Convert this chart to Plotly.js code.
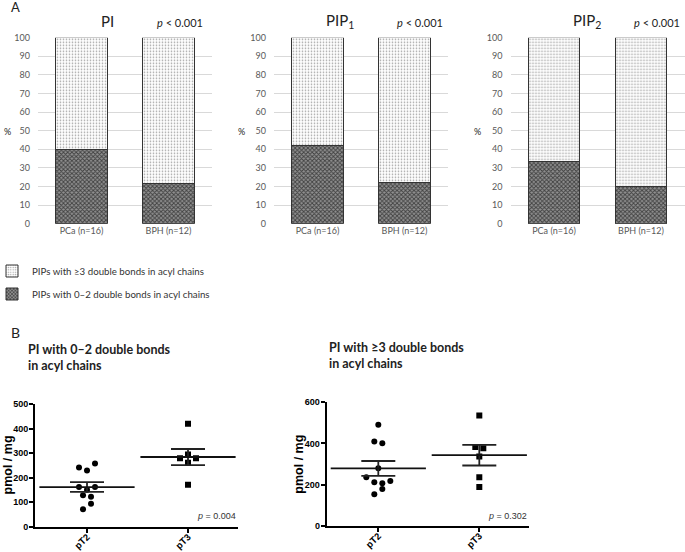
<!DOCTYPE html>
<html>
<head>
<meta charset="utf-8">
<script src="https://cdn.plot.ly/plotly-3.0.1.min.js"></script>
<style>html,body{margin:0;padding:0;background:#fff;}#chart{width:685px;height:552px;}</style>
</head>
<body>
<div id="chart"></div>
<script>
// ---------- DATA ----------
const groupsA = ['PCa (n=16)', 'BPH (n=12)'];
const classTitles = ['PI', 'PIP<sub>1</sub>', 'PIP<sub>2</sub>'];
const classP = ['<i>p</i> &lt; 0.001', '<i>p</i> &lt; 0.001', '<i>p</i> &lt; 0.001'];
// % of PIPs with 0–2 double bonds (dark part); rest is ≥3 double bonds
const lowPI   = [40.0, 21.7];
const lowPIP1 = [41.8, 22.0];
const lowPIP2 = [33.5, 20.2];
const seriesNames = ['PIPs with ≥3 double bonds in acyl chains', 'PIPs with 0–2 double bonds in acyl chains'];

const stages = ['pT2', 'pT3'];
// PI with 0–2 double bonds (pmol/mg)
const low_pT2 = [71, 94, 128, 122, 162, 151, 162, 242, 230, 258];
const low_pT3 = [171, 280, 261, 280, 295, 421];
// PI with ≥3 double bonds (pmol/mg)
const high_pT2 = [153, 179, 235, 211, 207, 217, 279, 410, 401, 491];
const high_pT3 = [188, 236, 337, 383, 377, 536];
const pB = ['<i>p</i> = 0.004', '<i>p</i> = 0.302'];
const titlesB = ['PI with 0–2 double bonds<br>in acyl chains', 'PI with ≥3 double bonds<br>in acyl chains'];

// ---------- LAYOUT HELPERS ----------
const W = 685, H = 552;
const fx = p => p / W;
const fy = p => 1 - p / H;
const FA = 'Lato, "Open Sans", sans-serif';
const FB = '"Liberation Sans", Arial, sans-serif';

const lows = [lowPI, lowPIP1, lowPIP2];
const aDomX = [[38, 212], [274, 448], [510.5, 684.5]];
const aDomY = [fy(223.7), fy(37.7)];
const aTitleX = [107, 340, 587];
const aPX = [180, 420, 657];
const aPctX = [7, 241, 477];

const traces = [];
const layout = {
  width: W, height: H,
  margin: {l: 0, r: 0, t: 0, b: 0, autoexpand: false},
  paper_bgcolor: '#fff', plot_bgcolor: 'rgba(0,0,0,0)',
  barmode: 'stack', bargap: 0.41,
  showlegend: true,
  annotations: [],
  font: {family: FA, color: '#222'}
};

const patHigh = {shape: '.', fgcolor: '#a0a0a0', bgcolor: '#ffffff', size: 3, solidity: 0.25};
const patLow = {shape: 'x', fgcolor: '#404040', bgcolor: '#909090', size: 3, solidity: 0.5};

lows.forEach((low, k) => {
  const xa = k === 0 ? 'x' : 'x' + (k + 1);
  const ya = k === 0 ? 'y' : 'y' + (k + 1);
  traces.push({
    type: 'bar', x: groupsA, y: low, xaxis: xa, yaxis: ya,
    name: seriesNames[1], legend: 'legend2', showlegend: k === 0,
    marker: {color: '#909090', pattern: patLow, line: {color: '#333', width: 1}},
    hoverinfo: 'skip'
  });
  traces.push({
    type: 'bar', x: groupsA, y: low.map(v => 100 - v), xaxis: xa, yaxis: ya,
    name: seriesNames[0], legend: 'legend', showlegend: k === 0,
    marker: {color: '#ffffff', pattern: patHigh, line: {color: '#333', width: 1}},
    hoverinfo: 'skip'
  });
  const sfx = k === 0 ? '' : String(k + 1);
  layout['xaxis' + sfx] = {
    domain: [fx(aDomX[k][0]), fx(aDomX[k][1])], anchor: ya, type: 'category',
    range: [-0.5, 1.5], showgrid: false, showline: false, zeroline: false, ticks: '',
    tickfont: {family: FA, size: 9, color: '#595959'}, fixedrange: true
  };
  layout['yaxis' + sfx] = {
    domain: aDomY, anchor: xa, range: [0, 100],
    tickvals: [0, 10, 20, 30, 40, 50, 60, 70, 80, 90, 100],
    showgrid: true, gridcolor: '#d9d9d9', gridwidth: 1, zeroline: false, showline: false,
    ticks: '', ticklabelstandoff: 7,
    tickfont: {family: FA, size: 9, color: '#595959'}, fixedrange: true
  };
  layout.annotations.push({
    xref: 'paper', yref: 'paper', x: fx(aTitleX[k]), y: fy(21), text: classTitles[k],
    showarrow: false, xanchor: 'center', yanchor: 'middle', font: {family: FA, size: 15, color: '#222'}
  });
  layout.annotations.push({
    xref: 'paper', yref: 'paper', x: fx(aPX[k]), y: fy(23), text: classP[k],
    showarrow: false, xanchor: 'center', yanchor: 'middle', font: {family: FA, size: 11, color: '#222'}
  });
  layout.annotations.push({
    xref: 'paper', yref: 'paper', x: fx(aPctX[k]), y: fy(131), text: '%',
    showarrow: false, xanchor: 'center', yanchor: 'middle', font: {family: FA, size: 9, color: '#222'}
  });
});

layout.legend = {x: fx(-8), y: fy(271), xanchor: 'left', yanchor: 'middle',
  bgcolor: 'rgba(0,0,0,0)', font: {family: FA, size: 9.7, color: '#333'}, itemwidth: 30};
layout.legend2 = {x: fx(-8), y: fy(294), xanchor: 'left', yanchor: 'middle',
  bgcolor: 'rgba(0,0,0,0)', font: {family: FA, size: 9.7, color: '#333'}, itemwidth: 30};

// Panel letters
layout.annotations.push({xref: 'paper', yref: 'paper', x: fx(15), y: fy(7), text: 'A', showarrow: false,
  xanchor: 'center', yanchor: 'middle', font: {family: FA, size: 13, color: '#222'}});
layout.annotations.push({xref: 'paper', yref: 'paper', x: fx(15), y: fy(332), text: 'B', showarrow: false,
  xanchor: 'center', yanchor: 'middle', font: {family: FA, size: 14, color: '#222'}});

// ---------- PANEL B ----------
const bDomX = [[35, 238], [326.7, 529.3]];
const bDomY = [[526.7, 404.3], [525.7, 402.3]];
const bRangeX = [[-0.515, 1.495], [-0.511, 1.495]];
const bRangeY = [[0, 500], [0, 600]];
const bTicks = [[0, 100, 200, 300, 400, 500], [0, 200, 400, 600]];
const bData = [[low_pT2, low_pT3], [high_pT2, high_pT3]];
const symbols = ['circle', 'square'];
const ROW_PX = 7, SLOT_PX = 8;

function mean(a) { return a.reduce((s, v) => s + v, 0) / a.length; }
function sem(a) {
  const m = mean(a);
  const sd = Math.sqrt(a.reduce((s, v) => s + (v - m) * (v - m), 0) / (a.length - 1));
  return sd / Math.sqrt(a.length);
}
// simple row-based dot layout (like a column scatter plot)
function swarm(vals, pxPerY, pxPerX) {
  const idx = vals.map((v, i) => i).sort((a, b) => vals[a] - vals[b] || a - b);
  const off = new Array(vals.length).fill(0);
  let i = 0;
  while (i < idx.length) {
    const start = vals[idx[i]];
    let j = i;
    while (j + 1 < idx.length && (vals[idx[j + 1]] - start) * pxPerY <= ROW_PX) j++;
    const row = idx.slice(i, j + 1).sort((a, b) => a - b);
    row.forEach((ii, r) => { off[ii] = (r - (row.length - 1) / 2) * SLOT_PX / pxPerX; });
    i = j + 1;
  }
  return off;
}

for (let p = 0; p < 2; p++) {
  const n = p + 4;
  const xa = 'x' + n, ya = 'y' + n;
  const pxX = (bDomX[p][1] - bDomX[p][0]) / (bRangeX[p][1] - bRangeX[p][0]);
  const pxY = (bDomY[p][0] - bDomY[p][1]) / (bRangeY[p][1] - bRangeY[p][0]);
  const means = [], sems = [];
  bData[p].forEach((vals, g) => {
    const off = swarm(vals, pxY, pxX);
    traces.push({
      type: 'scatter', mode: 'markers', xaxis: xa, yaxis: ya, showlegend: false,
      x: vals.map((v, i) => g + off[i]), y: vals,
      marker: {symbol: symbols[g], size: 6, color: '#000'}, hoverinfo: 'skip'
    });
    means.push(mean(vals)); sems.push(sem(vals));
  });
  traces.push({
    type: 'scatter', mode: 'markers', xaxis: xa, yaxis: ya, showlegend: false,
    x: [0, 1], y: means,
    marker: {symbol: 'line-ew', size: 68, color: '#111', line: {color: '#111', width: 1.8}},
    error_y: {type: 'data', array: sems, visible: true, width: 17, thickness: 1.8, color: '#222'},
    hoverinfo: 'skip'
  });
  layout['xaxis' + n] = {
    domain: [fx(bDomX[p][0]), fx(bDomX[p][1])], anchor: ya, range: bRangeX[p],
    tickvals: [0, 1], ticktext: stages, tickangle: -45,
    ticks: 'outside', ticklen: 4, tickwidth: 2, tickcolor: '#000', ticklabelstandoff: -5,
    showline: true, linewidth: 2, linecolor: '#000', showgrid: false, zeroline: false,
    tickfont: {family: FB, size: 9.5, color: '#000', weight: 'bold'}, fixedrange: true
  };
  layout['yaxis' + n] = {
    domain: [fy(bDomY[p][0]), fy(bDomY[p][1])], anchor: xa, range: bRangeY[p],
    tickvals: bTicks[p], ticks: 'outside', ticklen: 4, tickwidth: 2, tickcolor: '#000', ticklabelstandoff: -1,
    showline: true, linewidth: 2, linecolor: '#000', showgrid: false, zeroline: false,
    tickfont: {family: FB, size: 9, color: '#000', weight: 'bold'}, fixedrange: true
  };
  layout.annotations.push({
    xref: 'paper', yref: 'paper', x: fx(bDomX[p][0] - 28), y: fy((bDomY[p][0] + bDomY[p][1]) / 2),
    text: 'pmol / mg', textangle: -90, showarrow: false, xanchor: 'center', yanchor: 'middle',
    font: {family: FB, size: 12.5, color: '#000', weight: 'bold'}
  });
  layout.annotations.push({
    xref: 'paper', yref: 'paper', x: fx(bDomX[p][1]), y: fy(516),
    text: pB[p], showarrow: false, xanchor: 'right', yanchor: 'middle',
    font: {family: FB, size: 9, color: '#333'}
  });
  layout.annotations.push({
    xref: 'paper', yref: 'paper', x: fx(p === 0 ? 26 : 327), y: fy(p === 0 ? 357 : 355),
    text: '<b>' + titlesB[p] + '</b>', showarrow: false, xanchor: 'left', yanchor: 'middle', align: 'left',
    font: {family: FA, size: 12.5, color: '#222'}
  });
}

Plotly.newPlot('chart', traces, layout, {displayModeBar: false, staticPlot: true});
</script>
</body>
</html>
